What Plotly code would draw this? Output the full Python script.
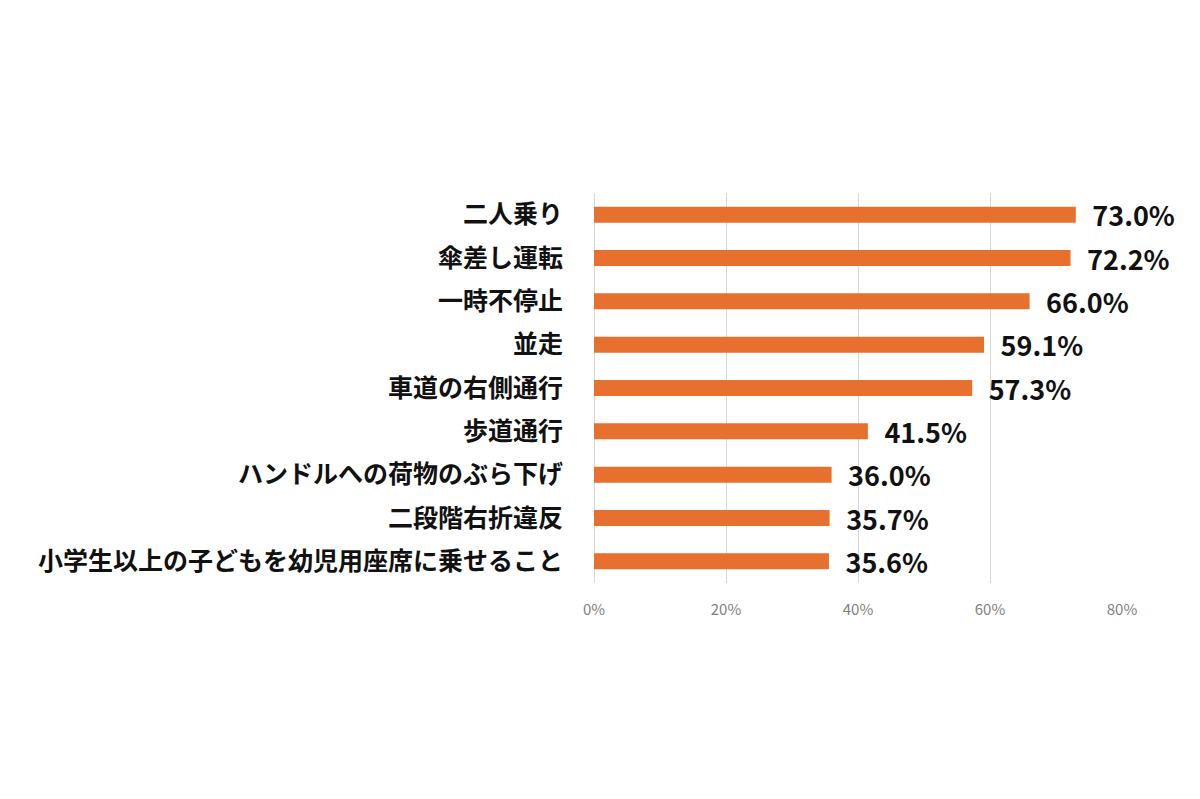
import plotly.graph_objects as go

categories = ["二人乗り", "傘差し運転", "一時不停止", "並走", "車道の右側通行",
              "歩道通行", "ハンドルへの荷物のぶら下げ", "二段階右折違反",
              "小学生以上の子どもを幼児用座席に乗せること"]
values = [73.0, 72.2, 66.0, 59.1, 57.3, 41.5, 36.0, 35.7, 35.6]
tick_vals = [0, 20, 40, 60, 80]
tick_text = ["0%", "20%", "40%", "60%", "80%"]

FONT = "Noto Sans CJK JP"

fig = go.Figure(go.Bar(
    x=values, y=categories, orientation="h",
    marker=dict(color="#E8702F", line=dict(width=0)),
    width=0.37,
    text=[f"\u2002<b>{v:.1f}%</b>" for v in values],
    textposition="outside",
    constraintext="none",
    textfont=dict(family=FONT, size=27, color="#111111"),
    cliponaxis=False,
))

fig.update_layout(
    width=1200, height=799,
    margin=dict(l=586, r=86, t=185, b=224, autoexpand=False),
    paper_bgcolor="white", plot_bgcolor="white",
    showlegend=False,
    xaxis=dict(range=[0, 80], tickvals=tick_vals, ticktext=tick_text,
               showgrid=True, gridcolor="#D9D9D9", gridwidth=1,
               zeroline=True, zerolinecolor="#D9D9D9", zerolinewidth=1,
               showline=False, ticks="", ticklabelstandoff=16,
               tickfont=dict(family=FONT, size=15, color="#7F7F7F")),
    yaxis=dict(autorange="reversed", showgrid=False, showline=False,
               ticks="", ticklabelstandoff=30,
               tickfont=dict(family=FONT, size=25, color="#111111"),
               tickprefix="<b>", ticksuffix="</b>"),
    bargap=0.63,
)

fig.write_html("out.html")
